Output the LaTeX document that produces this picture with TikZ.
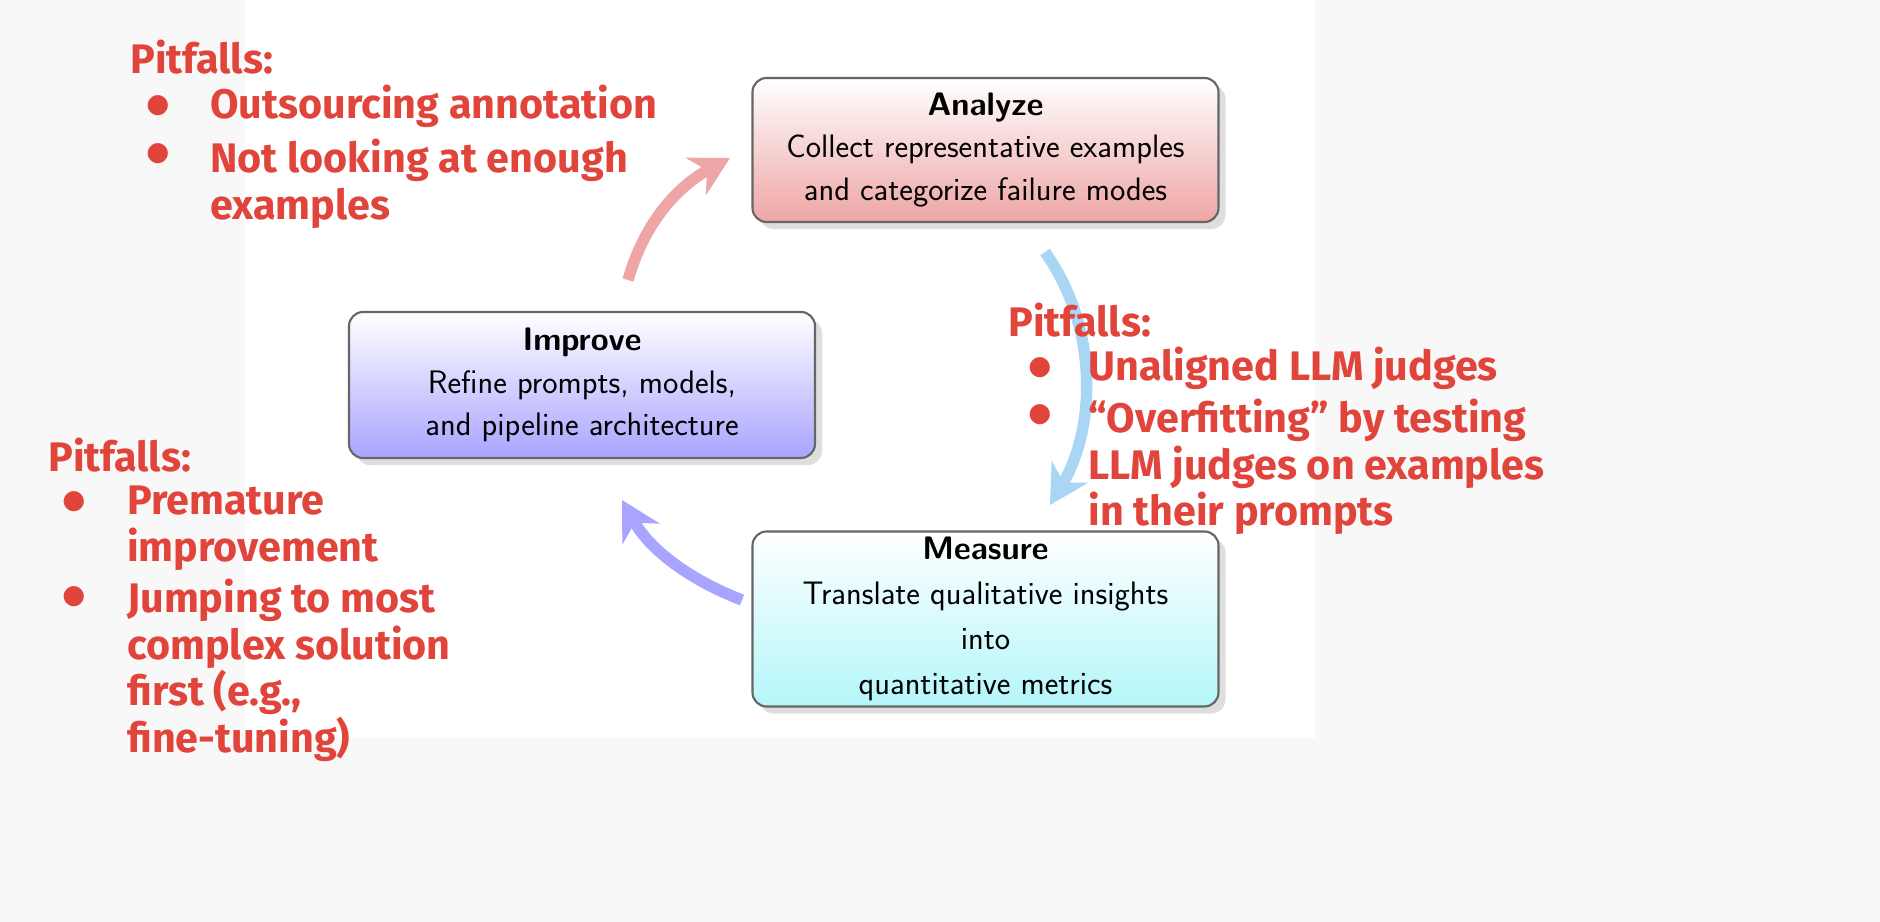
\documentclass[tikz,border=0pt]{standalone}
\usepackage{fontspec}
\setmainfont{Fira Sans}
\newfontfamily\dejavu{DejaVu Sans}
\usetikzlibrary{arrows.meta,shadows}
\definecolor{pitred}{HTML}{E0443A}
\definecolor{apink}{HTML}{EEA5A5}
\definecolor{ipurple}{HTML}{A9A4FF}
\definecolor{mcyan}{HTML}{B4F6FA}
\definecolor{ablue}{HTML}{A8D6F4}
\definecolor{bggray}{HTML}{F8F8F8}
\tikzset{
  x=0.02cm, y=-0.02cm,
  box/.style={draw=gray!80!black, line width=1.2pt, rounded corners=8pt, minimum width=466*0.02cm,
    align=center, font=\fontsize{18.5}{24}\selectfont\sffamily, top color=white,
    drop shadow={shadow xshift=4pt, shadow yshift=-4pt, fill=black!25}},
  pit/.style={anchor=west, text=pitred, font=\fontsize{23.5}{26.5}\selectfont\bfseries, inner sep=0pt, align=left},
  bul/.style={anchor=west, text=pitred, font=\fontsize{15}{18}\selectfont\dejavu, inner sep=0pt},
  cyc/.style={line width=6.5pt, -{Stealth[length=22pt,width=24pt]}},
}
\begin{document}
\begin{tikzpicture}
\useasboundingbox (0,0) rectangle (1880,922);
\fill[bggray] (0,0) rectangle (1880,922);
\fill[white] (245,0) rectangle (1315,738);

\node[box, bottom color=apink, minimum height=144*0.02cm] (an) at (985.5,150) {\textbf{Analyze}\\Collect representative examples\\and categorize failure modes};
\node[box, bottom color=ipurple, minimum height=146*0.02cm] (im) at (582,385) {\textbf{Improve}\\Refine prompts, models,\\and pipeline architecture};
\node[box, bottom color=mcyan, minimum height=174*0.02cm, font=\fontsize{18.5}{25.5}\selectfont\sffamily] (me) at (985.5,619) {\textbf{Measure}\\Translate qualitative insights\\into\\quantitative metrics};

\coordinate (a1) at (628,280);
\coordinate (a2) at (730,158);
\coordinate (b1) at (1045,252);
\coordinate (b2) at (1050,505);
\coordinate (c1) at (742,600);
\coordinate (c2) at (622,500);
\draw[cyc, apink] (a1) .. controls (645,220) and (680,185) .. (a2);
\draw[cyc, ablue] (b1) .. controls (1100,330) and (1095,430) .. (b2);
\draw[cyc, ipurple] (c1) .. controls (690,580) and (650,550) .. (c2);

% top-left
\node[pit] (p1) at (130,57) {Pitfalls:};
\node[bul] (p1b1) at (146,106) {●};
\node[pit] (p1t1) at (210,106) {Outsourcing annotation};
\node[bul] (p1b2) at (146,154) {●};
\node[pit, anchor=north west] (p1t2) at (210,139) {Not looking at enough\\examples};

% right
\node[pit] (p2) at (1008,320) {Pitfalls:};
\node[bul] (p2b1) at (1028,368) {●};
\node[pit] (p2t1) at (1088,368) {Unaligned LLM judges};
\node[bul] (p2b2) at (1028,415) {●};
\node[pit, anchor=north west] (p2t2) at (1088,399) {“Overfitting” by testing\\LLM judges on examples\\in their prompts};

% bottom-left
\node[pit] (p3) at (48,455) {Pitfalls:};
\node[bul] (p3b1) at (62,502) {●};
\node[pit, anchor=north west] (p3t1) at (127,486) {Premature\\improvement};
\node[bul] (p3b2) at (62,597) {●};
\node[pit, anchor=north west] (p3t2) at (127,579) {Jumping to most\\complex solution\\first (e.g.,\\fine-tuning)};
\end{tikzpicture}
\end{document}
